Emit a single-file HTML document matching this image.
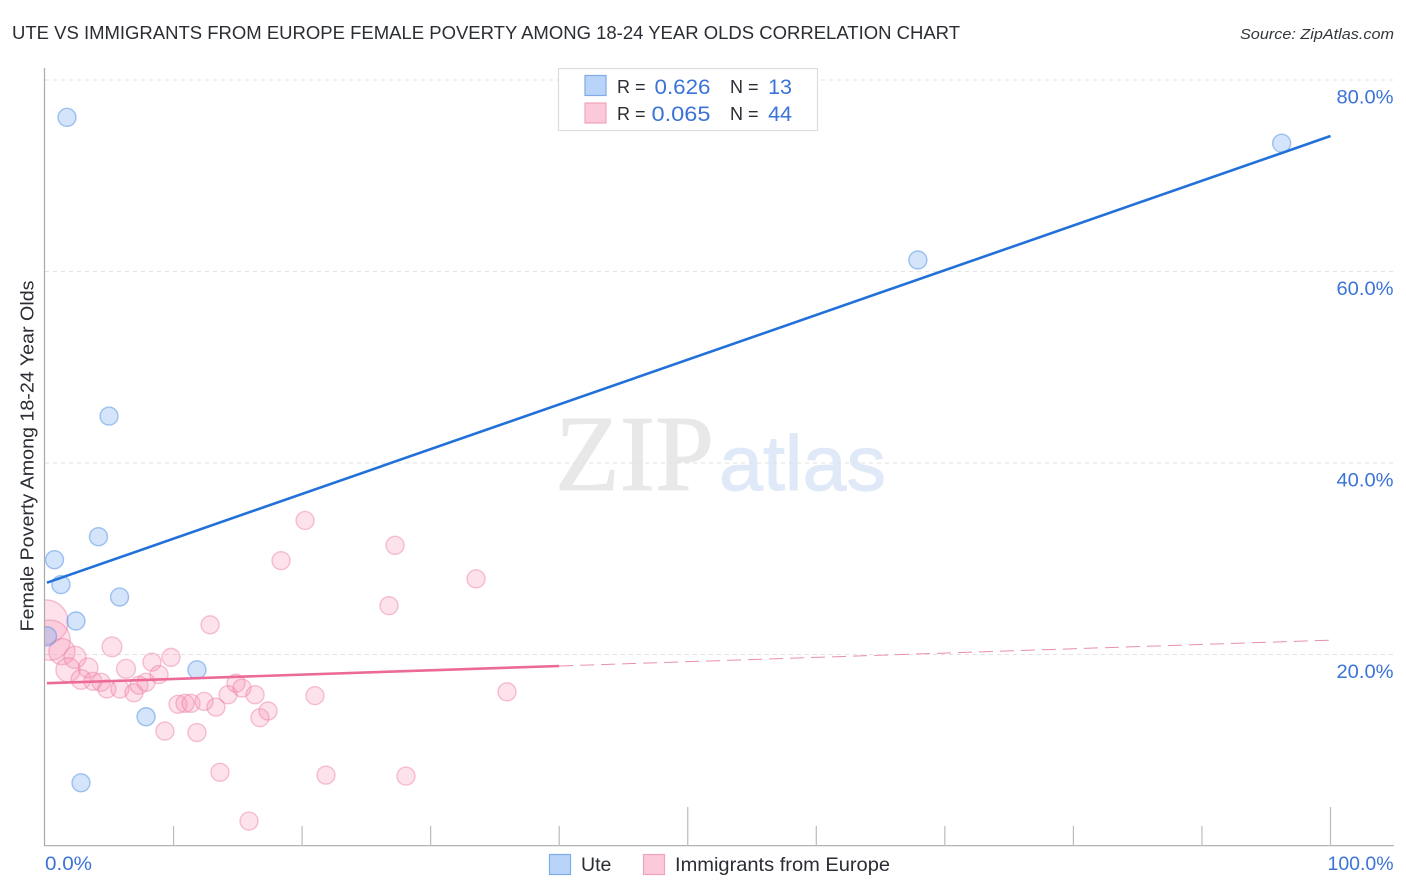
<!DOCTYPE html>
<html lang="en">
<head>
<meta charset="utf-8">
<title>Ute vs Immigrants from Europe correlation chart</title>
<style>
html,body{margin:0;padding:0;background:#fff;width:1406px;height:892px;overflow:hidden}
svg{display:block;font-family:"Liberation Sans",sans-serif}
</style>
</head>
<body>
<svg id="chart" width="1406" height="892" viewBox="0 0 1406 892" xmlns="http://www.w3.org/2000/svg">
  <text x="555" y="490" font-size="108" fill="#e8e8e8" stroke="#e8e8e8" stroke-width="1" font-family="'Liberation Serif',serif" textLength="159" lengthAdjust="spacingAndGlyphs">ZIP</text>
  <text x="719" y="490" font-size="78" fill="#dfe9f8" stroke="#dfe9f8" stroke-width="1" textLength="167" lengthAdjust="spacingAndGlyphs">atlas</text>
  <g id="grid"></g>
  <svg x="45" y="60" width="1349" height="786" viewBox="45 60 1349 786" overflow="hidden">
    <g id="points"></g>
  </svg>
  <rect x="0" y="60" width="44.5" height="790" fill="#ffffff"/>
  <g id="axes">
    <line x1="44.5" y1="68" x2="44.5" y2="846" stroke="#aaaaaa" stroke-width="1.2"/>
    <line x1="44" y1="845.7" x2="1394" y2="845.7" stroke="#aaaaaa" stroke-width="1.2"/>
  </g>
  <g id="xticks"></g>
  <g id="ylabels"></g>
  <g id="xlabels"></g>
  <text x="12" y="39" font-size="18.5" fill="#2a2d33" textLength="948" lengthAdjust="spacingAndGlyphs">UTE VS IMMIGRANTS FROM EUROPE FEMALE POVERTY AMONG 18-24 YEAR OLDS CORRELATION CHART</text>
  <text x="1394" y="39" font-size="15" font-style="italic" fill="#33363b" text-anchor="end" textLength="154" lengthAdjust="spacingAndGlyphs">Source: ZipAtlas.com</text>
  <text transform="translate(33.5 456) rotate(-90)" font-size="18.5" fill="#2a2d33" text-anchor="middle" textLength="351" lengthAdjust="spacingAndGlyphs">Female Poverty Among 18-24 Year Olds</text>
  <g id="trends"></g>

  <g>
    <rect x="558.5" y="68.5" width="259" height="62" fill="#fff" fill-opacity="0.9" stroke="#dddddd" stroke-width="1.2"/>
    <rect x="585" y="75.5" width="21" height="20" fill="#b9d4f8" stroke="#7fabe6" stroke-width="1.2"/>
    <rect x="585" y="103" width="21" height="20" fill="#fcc9da" stroke="#f0a3bd" stroke-width="1.2"/>
    <text x="617" y="93" font-size="18" fill="#2a2d33">R =</text>
    <text x="710.5" y="94" font-size="21.5" fill="#3b73d6" text-anchor="end" textLength="56" lengthAdjust="spacingAndGlyphs">0.626</text>
    <text x="730" y="93" font-size="18" fill="#2a2d33">N =</text>
    <text x="792" y="94" font-size="21.5" fill="#3b73d6" text-anchor="end">13</text>
    <text x="617" y="120" font-size="18" fill="#2a2d33">R =</text>
    <text x="710.5" y="121" font-size="21.5" fill="#3b73d6" text-anchor="end" textLength="59" lengthAdjust="spacingAndGlyphs">0.065</text>
    <text x="730" y="120" font-size="18" fill="#2a2d33">N =</text>
    <text x="792" y="121" font-size="21.5" fill="#3b73d6" text-anchor="end">44</text>
  </g>

  <g>
    <rect x="549.5" y="854.5" width="21" height="20" fill="#b9d4f8" stroke="#7fabe6" stroke-width="1.2"/>
    <text x="581" y="871" font-size="19.5" fill="#2a2d33">Ute</text>
    <rect x="643.5" y="854.5" width="21" height="20" fill="#fcc9da" stroke="#f0a3bd" stroke-width="1.2"/>
    <text x="675" y="871" font-size="19.5" fill="#2a2d33" textLength="215" lengthAdjust="spacingAndGlyphs">Immigrants from Europe</text>
  </g>
</svg>
<script>
var yTickValues = [20, 40, 60, 80];
var yTickLabels = ["20.0%", "40.0%", "60.0%", "80.0%"];
var xTickValues = [0, 10, 20, 30, 40, 50, 60, 70, 80, 90, 100];
var xMajorTicks = [50, 100];
var xEndValues = [0, 100];
var xEndLabels = ["0.0%", "100.0%"];

var uteX = [1.71, 96.2, 67.9, 4.98, 4.16, 0.74, 1.24, 5.8, 2.41, 0.16, 11.82, 7.86, 2.8];
var uteY = [76.1, 73.4, 61.2, 44.9, 32.3, 29.9, 27.3, 26.0, 23.5, 21.9, 18.4, 13.5, 6.6];
var uteWeight = [1, 1, 1, 1, 1, 1, 1, 1, 1, 1.1, 1, 1, 1];

var immigrantsX = [0.08, 0.39, 1.32, 2.33, 1.79, 3.35, 2.8, 3.73, 4.36, 4.82, 5.83, 6.3, 5.21, 6.92, 7.31, 7.86, 8.32, 8.87, 9.8, 10.35, 10.89, 11.36, 12.37, 13.3, 14.24, 14.86, 15.32, 16.34, 16.72, 17.35, 35.94, 21.0, 9.33, 11.82, 13.61, 21.86, 28.08, 15.87, 12.84, 18.36, 20.23, 27.23, 33.53, 26.76];
var immigrantsY = [23.4, 21.5, 20.3, 19.7, 18.4, 18.6, 17.4, 17.2, 17.1, 16.4, 16.4, 18.5, 20.8, 16.0, 16.8, 17.1, 19.2, 17.9, 19.7, 14.8, 14.9, 14.9, 15.1, 14.5, 15.8, 17.0, 16.5, 15.8, 13.4, 14.1, 16.1, 15.7, 12.0, 11.85, 7.7, 7.4, 7.3, 2.6, 23.1, 29.8, 34.0, 31.4, 27.9, 25.1];
var immigrantsWeight = [6, 5, 2.1, 1.5, 1.8, 1.2, 1.2, 1, 1, 1, 1, 1.1, 1.2, 1, 1, 1, 1, 1, 1, 1, 1, 1, 1, 1, 1, 1, 1, 1, 1, 1, 1, 1, 1, 1, 1, 1, 1, 1, 1, 1, 1, 1, 1, 1];

var uteTrendX = [0.15, 100];
var uteTrendY = [27.5, 74.15];
var immigrantsSolidX = [0.15, 40];
var immigrantsSolidY = [17.0, 18.8];
var immigrantsDashX = [40, 100];
var immigrantsDashY = [18.8, 21.5];

function xScale(v) { return 45 + v * 12.855; }
function yScale(v) { return 846 - v * 9.575; }
function rScale(w) { return 9 * Math.sqrt(w); }
function labelWidth(s) { return s.length === 4 ? 47 : s.length === 5 ? 57 : 66; }

var NS = "http://www.w3.org/2000/svg";
function make(tag, parentId, attrs, text) {
  var el = document.createElementNS(NS, tag);
  for (var k in attrs) { el.setAttribute(k, attrs[k]); }
  if (text) { el.textContent = text; }
  document.getElementById(parentId).appendChild(el);
  return el;
}

yTickValues.forEach(function (v, i) {
  var line = make("line", "grid", {x1: 45, x2: 1394, y1: yScale(v), y2: yScale(v), stroke: "#e2e2e2", "stroke-width": 1, "stroke-dasharray": "4 4"});
  
  
  var label = make("text", "ylabels", {x: 1393.5, y: yScale(v) + 23.5, "font-size": 19.5, fill: "#3b73d6", "text-anchor": "end", textLength: labelWidth(yTickLabels[i]), lengthAdjust: "spacingAndGlyphs"}, yTickLabels[i]);
  
  
});

xTickValues.forEach(function (v) {
  if (v === 0) { return; }
  var tall = xMajorTicks.indexOf(v) >= 0;
  var tick = make("line", "xticks", {x1: xScale(v), x2: xScale(v), y1: tall ? 807 : 826, y2: 846, stroke: "#bbbbbb", "stroke-width": 1.2});
  
  
});

xEndValues.forEach(function (v, i) {
  var anchor = i === 0 ? "start" : "end";
  var px = i === 0 ? xScale(v) : 1393.5;
  var label = make("text", "xlabels", {x: px, y: 870, "font-size": 19.5, fill: "#3b73d6", "text-anchor": anchor, textLength: labelWidth(xEndLabels[i]), lengthAdjust: "spacingAndGlyphs"}, xEndLabels[i]);
  
  
});

immigrantsX.forEach(function (v, i) {
  var c = make("circle", "points", {cx: xScale(v), cy: yScale(immigrantsY[i]), r: rScale(immigrantsWeight[i]), fill: "#f78fb3", "fill-opacity": 0.26, stroke: "#ec7ba3", "stroke-opacity": 0.45, "stroke-width": 1.4});
  
  
});

uteX.forEach(function (v, i) {
  var c = make("circle", "points", {cx: xScale(v), cy: yScale(uteY[i]), r: rScale(uteWeight[i]), fill: "#7fb0f2", "fill-opacity": 0.34, stroke: "#5b97e2", "stroke-opacity": 0.55, "stroke-width": 1.4});
  
  
});

var uteLine = make("line", "trends", {x1: xScale(uteTrendX[0]), y1: yScale(uteTrendY[0]), x2: xScale(uteTrendX[1]), y2: yScale(uteTrendY[1]), stroke: "#2271d9", "stroke-width": 2.6});



var pinkSolid = make("line", "trends", {x1: xScale(immigrantsSolidX[0]), y1: yScale(immigrantsSolidY[0]), x2: xScale(immigrantsSolidX[1]), y2: yScale(immigrantsSolidY[1]), stroke: "#ec6a98", "stroke-width": 2.6});



var pinkDash = make("line", "trends", {x1: xScale(immigrantsDashX[0]), y1: yScale(immigrantsDashY[0]), x2: xScale(immigrantsDashX[1]), y2: yScale(immigrantsDashY[1]), stroke: "#e88fae", "stroke-width": 1, "stroke-dasharray": "14 7"});


</script>
</body>
</html>
